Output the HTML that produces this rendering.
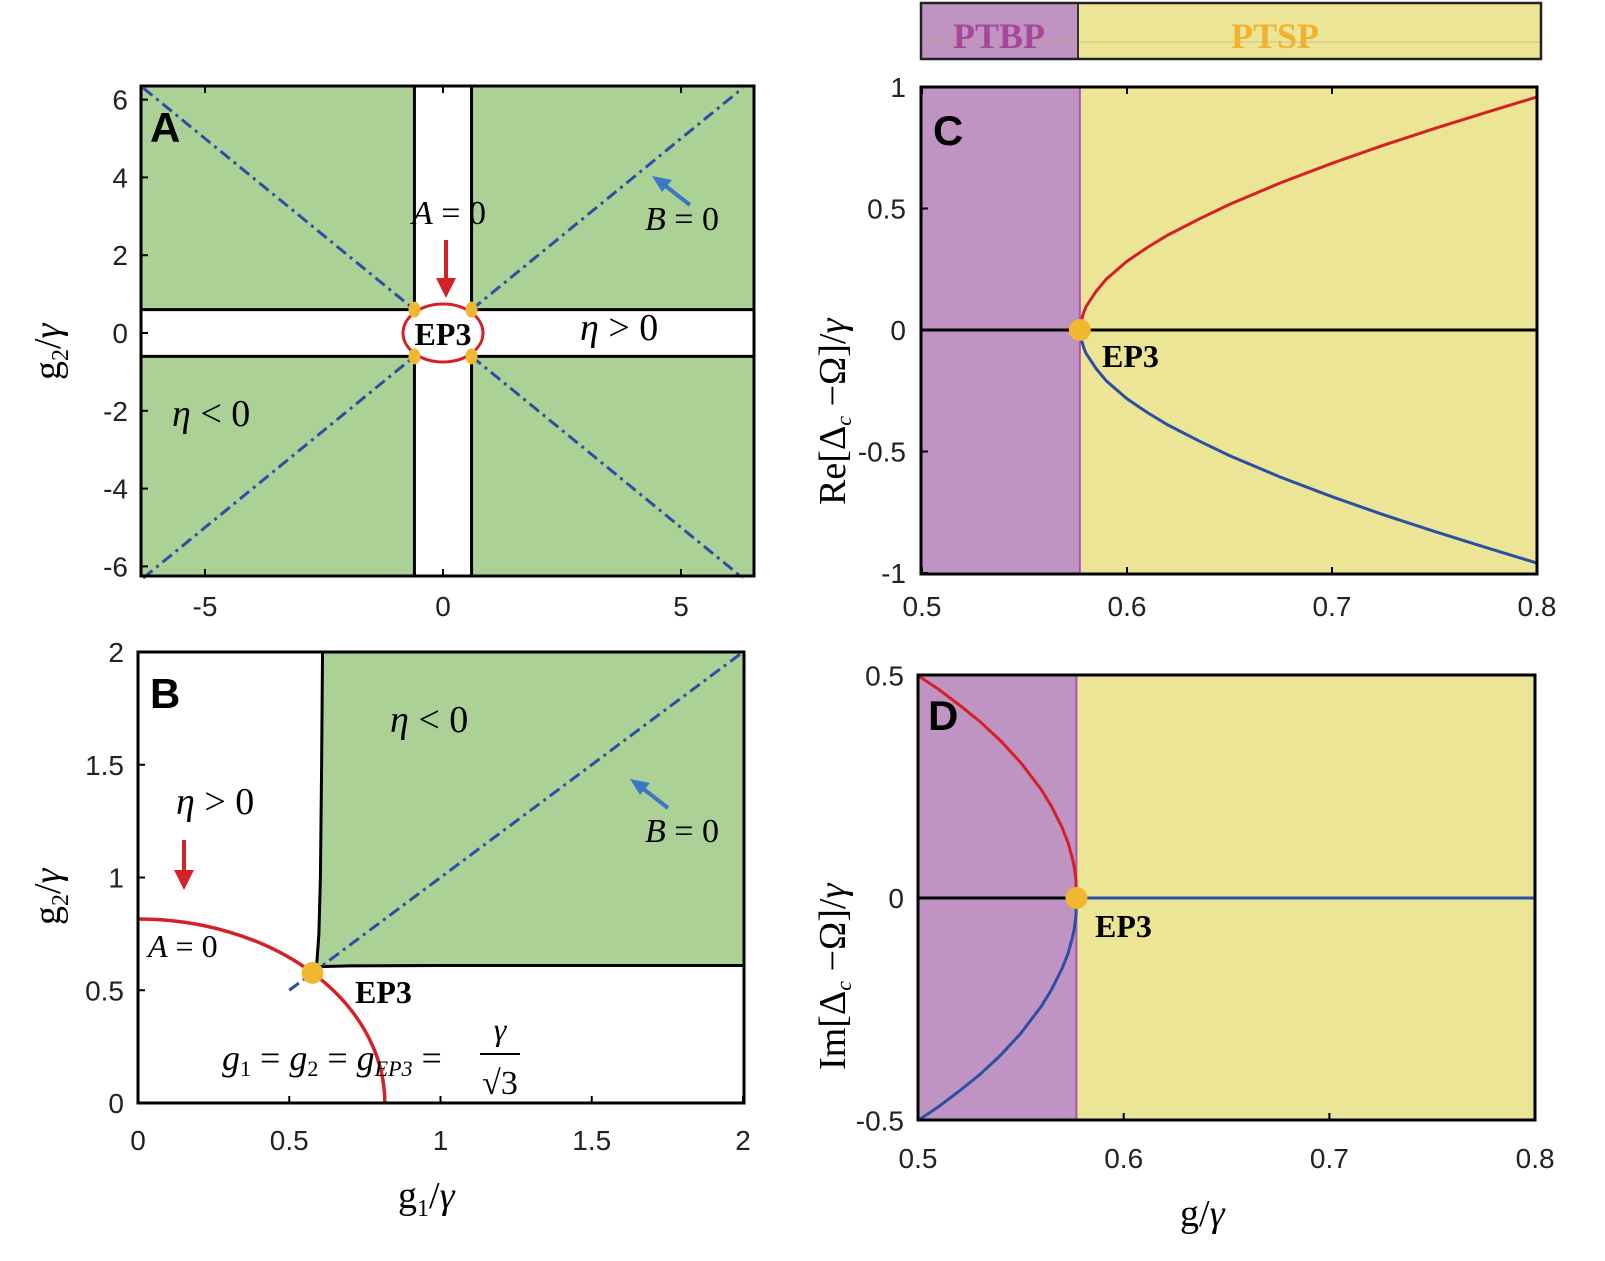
<!DOCTYPE html>
<html><head><meta charset="utf-8">
<style>
html,body{margin:0;padding:0;background:#fff;}
svg{display:block;}
.tk{font-family:"Liberation Sans",sans-serif;font-size:28px;fill:#222;}
.ser{font-family:"Liberation Serif",serif;}
</style></head>
<body>
<svg id="fig" width="1605" height="1261" viewBox="0 0 1605 1261" xmlns="http://www.w3.org/2000/svg"></svg>
<script>
// ---- data ----
const aTicksX = [-5, 0, 5];
const aTicksY = [-6, -4, -2, 0, 2, 4, 6];
const aStrip = 0.6;
const aEP = [[-0.6,0.6],[0.6,0.6],[-0.6,-0.6],[0.6,-0.6]];
const bTicksX = [0, 0.5, 1, 1.5, 2];
const bTicksY = [0, 0.5, 1, 1.5, 2];
const bBoundaryX = [0.61, 0.607, 0.603, 0.598, 0.59, 0.6, 0.7, 1.0, 1.5, 2.0];
const bBoundaryY = [2.0, 1.5, 1.0, 0.75, 0.6, 0.605, 0.608, 0.61, 0.61, 0.61];
const bCircleR = 0.816;
const gEP3 = 0.577;
const cTicksX = [0.5, 0.6, 0.7, 0.8];
const cTicksY = [-1, -0.5, 0, 0.5, 1];
const cTickLabY = ['-1','-0.5','0','0.5','1'];
const cG = [0.577, 0.5772, 0.5775, 0.578, 0.579, 0.58, 0.585, 0.59, 0.6, 0.61, 0.62, 0.635, 0.65, 0.675, 0.7, 0.725, 0.75, 0.775, 0.8];
const cRe = [0, 0.02, 0.035, 0.047, 0.075, 0.096, 0.16, 0.21, 0.283, 0.34, 0.391, 0.456, 0.517, 0.606, 0.686, 0.76, 0.829, 0.895, 0.959];
const dTicksY = [-0.5, 0, 0.5];
const dG = [0.5, 0.51, 0.52, 0.53, 0.54, 0.55, 0.56, 0.565, 0.57, 0.573, 0.575, 0.576, 0.5768, 0.577];
const dIm = [0.5, 0.469, 0.434, 0.397, 0.354, 0.304, 0.243, 0.205, 0.159, 0.124, 0.09, 0.068, 0.04, 0];

// ---- helpers ----
const NS='http://www.w3.org/2000/svg';
const svg=document.getElementById('fig');
function el(tag, attrs, parent){const e=document.createElementNS(NS,tag);for(const k in attrs)e.setAttribute(k,attrs[k]);(parent||svg).appendChild(e);return e;}
function txt(x,y,s,attrs){const e=el('text',Object.assign({x:x,y:y},attrs||{}));e.innerHTML=s;return e;}
const GREEN='#abd196', PURP='#c094c2', YEL='#ebe595', RED='#d42027', BLUE='#2c4fa6', ORG='#f2b730';

// ===== Panel A =====
const xA=v=>443+v*47.6, yA=v=>333-v*38.9;
const A={x0:141,x1:754,y0:86,y1:576};
let r=el('rect',{x:A.x0,y:A.y0,width:A.x1-A.x0,height:A.y1-A.y0,fill:GREEN});

el('rect',{x:xA(-aStrip),y:A.y0,width:xA(aStrip)-xA(-aStrip),height:A.y1-A.y0,fill:'#fff'});
el('rect',{x:A.x0,y:yA(aStrip),width:A.x1-A.x0,height:yA(-aStrip)-yA(aStrip),fill:'#fff'});
[-aStrip,aStrip].forEach(v=>{
  el('line',{x1:xA(v),y1:A.y0,x2:xA(v),y2:A.y1,stroke:'#000','stroke-width':3});
  el('line',{x1:A.x0,y1:yA(v),x2:A.x1,y2:yA(v),stroke:'#000','stroke-width':3});
});
[[-6.3,-6.3,-0.6,-0.6],[0.6,0.6,6.3,6.3],[-6.3,6.3,-0.6,0.6],[0.6,-0.6,6.3,-6.3]].forEach(s=>{
  let l=el('line',{x1:xA(s[0]),y1:yA(s[1]),x2:xA(s[2]),y2:yA(s[3]),stroke:BLUE,'stroke-width':3,'stroke-dasharray':'12 5 3 5'});
  
});
el('ellipse',{cx:xA(0),cy:yA(0),rx:40,ry:29,fill:'#fff',stroke:RED,'stroke-width':3});
aEP.forEach(p=>{let c=el('ellipse',{cx:xA(p[0]),cy:yA(p[1]),rx:6,ry:8,fill:ORG});});
txt(443,345,'EP3',{class:'ser','font-size':32,'font-weight':'bold','text-anchor':'middle'});
el('line',{x1:446,y1:240,x2:446,y2:280,stroke:RED,'stroke-width':4});
el('polygon',{points:'436,278 456,278 446,298',fill:RED});
txt(412,224,'<tspan font-style="italic">A</tspan> = 0',{class:'ser','font-size':34});
txt(645,230,'<tspan font-style="italic">B</tspan> = 0',{class:'ser','font-size':34});
el('line',{x1:690,y1:205,x2:663,y2:184,stroke:'#3a78c4','stroke-width':4});
el('polygon',{points:'652,176 672,180 662,192',fill:'#3a78c4'});
txt(580,340,'<tspan font-style="italic">η</tspan> &gt; 0',{class:'ser','font-size':38});
txt(172,426,'<tspan font-style="italic">η</tspan> &lt; 0',{class:'ser','font-size':38});
txt(150,142,'A',{'font-family':'Liberation Sans',"font-size":42,'font-weight':'bold'});
el('rect',{x:A.x0,y:A.y0,width:A.x1-A.x0,height:A.y1-A.y0,fill:'none',stroke:'#000','stroke-width':3});
aTicksX.forEach(v=>{el('line',{x1:xA(v),y1:A.y1,x2:xA(v),y2:A.y1-7,stroke:'#000','stroke-width':2});el('line',{x1:xA(v),y1:A.y0,x2:xA(v),y2:A.y0+7,stroke:'#000','stroke-width':2});txt(xA(v),616,v<0?'-'+(-v):v,{class:'tk','text-anchor':'middle'});});
aTicksY.forEach(v=>{el('line',{x1:A.x0,y1:yA(v),x2:A.x0+7,y2:yA(v),stroke:'#000','stroke-width':2});txt(128,yA(v)+10,v<0?'-'+(-v):v,{class:'tk','text-anchor':'end'});});
txt(0,0,'g<tspan font-size="24" dy="8">2</tspan><tspan dy="-8">/</tspan><tspan font-style="italic">γ</tspan>',{class:'ser','font-size':38,transform:'translate(60,380) rotate(-90)'});

// ===== Panel B =====
const xB=v=>138+v*302.5, yB=v=>1103-v*225.5;
const B={x0:138,x1:744,y0:652,y1:1103};
let pts=bBoundaryX.map((v,i)=>xB(v)+','+yB(bBoundaryY[i])).join(' ');
let gp=el('polygon',{points:pts+' '+xB(2)+','+yB(2),fill:GREEN});

el('polyline',{points:pts,fill:'none',stroke:'#000','stroke-width':3});
let dl=el('line',{x1:xB(0.5),y1:yB(0.5),x2:xB(2),y2:yB(2),stroke:BLUE,'stroke-width':3,'stroke-dasharray':'12 5 3 5'});

let arc=el('path',{d:`M${xB(0)},${yB(bCircleR)} A${bCircleR*302.5},${bCircleR*225.5} 0 0 1 ${xB(bCircleR)},${yB(0)}`,fill:'none',stroke:RED,'stroke-width':3.5});

let ep=el('circle',{cx:xB(gEP3),cy:yB(gEP3),r:11,fill:ORG});
txt(355,1003,'EP3',{class:'ser','font-size':32,'font-weight':'bold'});
txt(222,1070,'<tspan font-style="italic">g</tspan><tspan font-size="22" dy="6">1</tspan><tspan dy="-6"> = </tspan><tspan font-style="italic">g</tspan><tspan font-size="22" dy="6">2</tspan><tspan dy="-6"> = </tspan><tspan font-style="italic">g</tspan><tspan font-size="22" font-style="italic" dy="6">EP3</tspan><tspan dy="-6"> =</tspan>',{class:'ser','font-size':36});
txt(500,1040,'γ',{class:'ser','font-size':32,'font-style':'italic','text-anchor':'middle'});
el('line',{x1:480,y1:1054,x2:520,y2:1054,stroke:'#000','stroke-width':2});
txt(500,1094,'√3',{class:'ser','font-size':34,'text-anchor':'middle'});
el('line',{x1:184,y1:840,x2:184,y2:872,stroke:RED,'stroke-width':4});
el('polygon',{points:'174,870 194,870 184,890',fill:RED});
txt(148,957,'<tspan font-style="italic">A</tspan> = 0',{class:'ser','font-size':32});
txt(176,814,'<tspan font-style="italic">η</tspan> &gt; 0',{class:'ser','font-size':38});
txt(390,732,'<tspan font-style="italic">η</tspan> &lt; 0',{class:'ser','font-size':38});
txt(645,842,'<tspan font-style="italic">B</tspan> = 0',{class:'ser','font-size':34});
el('line',{x1:668,y1:808,x2:641,y2:787,stroke:'#3a78c4','stroke-width':4});
el('polygon',{points:'630,779 650,783 640,795',fill:'#3a78c4'});
txt(150,708,'B',{'font-family':'Liberation Sans','font-size':42,'font-weight':'bold'});
el('rect',{x:B.x0,y:B.y0,width:B.x1-B.x0,height:B.y1-B.y0,fill:'none',stroke:'#000','stroke-width':3});
bTicksX.forEach(v=>{el('line',{x1:xB(v),y1:B.y1,x2:xB(v),y2:B.y1-7,stroke:'#000','stroke-width':2});txt(xB(v),1150,v,{class:'tk','text-anchor':'middle'});});
bTicksY.forEach(v=>{el('line',{x1:B.x0,y1:yB(v),x2:B.x0+7,y2:yB(v),stroke:'#000','stroke-width':2});txt(124,yB(v)+10,v,{class:'tk','text-anchor':'end'});});
txt(398,1208,'g<tspan font-size="24" dy="8">1</tspan><tspan dy="-8">/</tspan><tspan font-style="italic">γ</tspan>',{class:'ser','font-size':38});
txt(0,0,'g<tspan font-size="24" dy="8">2</tspan><tspan dy="-8">/</tspan><tspan font-style="italic">γ</tspan>',{class:'ser','font-size':38,transform:'translate(60,925) rotate(-90)'});

// ===== Top bar =====
let tb1=el('rect',{x:921,y:3,width:157,height:56,fill:PURP});
let tb2=el('rect',{x:1078,y:3,width:463,height:56,fill:YEL});
el('line',{x1:921,y1:42,x2:1541,y2:42,stroke:'#c9a96a','stroke-width':1,opacity:0.6});
el('line',{x1:1078,y1:3,x2:1078,y2:59,stroke:'#333','stroke-width':2});
el('rect',{x:921,y:3,width:620,height:56,fill:'none',stroke:'#222','stroke-width':2.5});
txt(999,48,'PTBP',{class:'ser','font-size':36,'font-weight':'bold',fill:'#a8479a','text-anchor':'middle'});
txt(1275,48,'PTSP',{class:'ser','font-size':36,'font-weight':'bold',fill:'#f0b230','text-anchor':'middle'});

// ===== Panel C =====
const xC=v=>922+(v-0.5)*2050, yC=v=>330-v*243;
const C={x0:921,x1:1537,y0:87,y1:574};
el('rect',{x:C.x0,y:C.y0,width:xC(gEP3)-C.x0,height:C.y1-C.y0,fill:PURP});
el('rect',{x:xC(gEP3),y:C.y0,width:C.x1-xC(gEP3),height:C.y1-C.y0,fill:YEL});
el('line',{x1:xC(gEP3),y1:C.y0,x2:xC(gEP3),y2:C.y1,stroke:'#a855b5','stroke-width':2});
el('line',{x1:C.x0,y1:yC(0),x2:C.x1,y2:yC(0),stroke:'#000','stroke-width':3});
let cr=el('polyline',{points:cG.map((g,i)=>xC(g)+','+yC(cRe[i])).join(' '),fill:'none',stroke:RED,'stroke-width':3});

let cb=el('polyline',{points:cG.map((g,i)=>xC(g)+','+yC(-cRe[i])).join(' '),fill:'none',stroke:BLUE,'stroke-width':3});

let ec=el('circle',{cx:xC(gEP3),cy:yC(0),r:11,fill:ORG});
txt(1102,367,'EP3',{class:'ser','font-size':32,'font-weight':'bold'});
txt(933,145,'C',{'font-family':'Liberation Sans','font-size':42,'font-weight':'bold'});
el('rect',{x:C.x0,y:C.y0,width:C.x1-C.x0,height:C.y1-C.y0,fill:'none',stroke:'#000','stroke-width':3});
cTicksX.forEach(v=>{el('line',{x1:xC(v),y1:C.y1,x2:xC(v),y2:C.y1-7,stroke:'#000','stroke-width':2});el('line',{x1:xC(v),y1:C.y0,x2:xC(v),y2:C.y0+7,stroke:'#000','stroke-width':2});txt(xC(v),616,v,{class:'tk','text-anchor':'middle'});});
cTicksY.forEach((v,i)=>{el('line',{x1:C.x0,y1:yC(v),x2:C.x0+7,y2:yC(v),stroke:'#000','stroke-width':2});txt(906,yC(v)+10,cTickLabY[i],{class:'tk','text-anchor':'end'});});
txt(0,0,'Re[Δ<tspan font-size="22" font-style="italic" dy="6">c</tspan><tspan dy="-6"> −Ω]/</tspan><tspan font-style="italic">γ</tspan>',{class:'ser','font-size':38,transform:'translate(845,505) rotate(-90)'});

// ===== Panel D =====
const xD=v=>918+(v-0.5)*2057, yD=v=>898-v*445;
const D={x0:918,x1:1535,y0:675,y1:1120};
el('rect',{x:D.x0,y:D.y0,width:xD(gEP3)-D.x0,height:D.y1-D.y0,fill:PURP});
el('rect',{x:xD(gEP3),y:D.y0,width:D.x1-xD(gEP3),height:D.y1-D.y0,fill:YEL});
el('line',{x1:xD(gEP3),y1:D.y0,x2:xD(gEP3),y2:D.y1,stroke:'#a855b5','stroke-width':2});
el('line',{x1:D.x0,y1:yD(0),x2:xD(gEP3),y2:yD(0),stroke:'#000','stroke-width':3});
let dbl=el('line',{x1:xD(gEP3),y1:yD(0),x2:D.x1,y2:yD(0),stroke:BLUE,'stroke-width':3});

let dr=el('polyline',{points:dG.map((g,i)=>xD(g)+','+yD(dIm[i])).join(' '),fill:'none',stroke:RED,'stroke-width':3});

let db=el('polyline',{points:dG.map((g,i)=>xD(g)+','+yD(-dIm[i])).join(' '),fill:'none',stroke:BLUE,'stroke-width':3});

let ed=el('circle',{cx:xD(gEP3),cy:yD(0),r:11,fill:ORG});
txt(1095,937,'EP3',{class:'ser','font-size':32,'font-weight':'bold'});
txt(928,730,'D',{'font-family':'Liberation Sans','font-size':42,'font-weight':'bold'});
el('rect',{x:D.x0,y:D.y0,width:D.x1-D.x0,height:D.y1-D.y0,fill:'none',stroke:'#000','stroke-width':3});
cTicksX.forEach(v=>{el('line',{x1:xD(v),y1:D.y1,x2:xD(v),y2:D.y1-7,stroke:'#000','stroke-width':2});txt(xD(v),1168,v,{class:'tk','text-anchor':'middle'});});
dTicksY.forEach(v=>{el('line',{x1:D.x0,y1:yD(v),x2:D.x0+7,y2:yD(v),stroke:'#000','stroke-width':2});txt(904,yD(v)+10,v,{class:'tk','text-anchor':'end'});});
txt(1180,1226,'g/<tspan font-style="italic">γ</tspan>',{class:'ser','font-size':38});
txt(0,0,'Im[Δ<tspan font-size="22" font-style="italic" dy="6">c</tspan><tspan dy="-6"> −Ω]/</tspan><tspan font-style="italic">γ</tspan>',{class:'ser','font-size':38,transform:'translate(845,1070) rotate(-90)'});
</script>
</body></html>
